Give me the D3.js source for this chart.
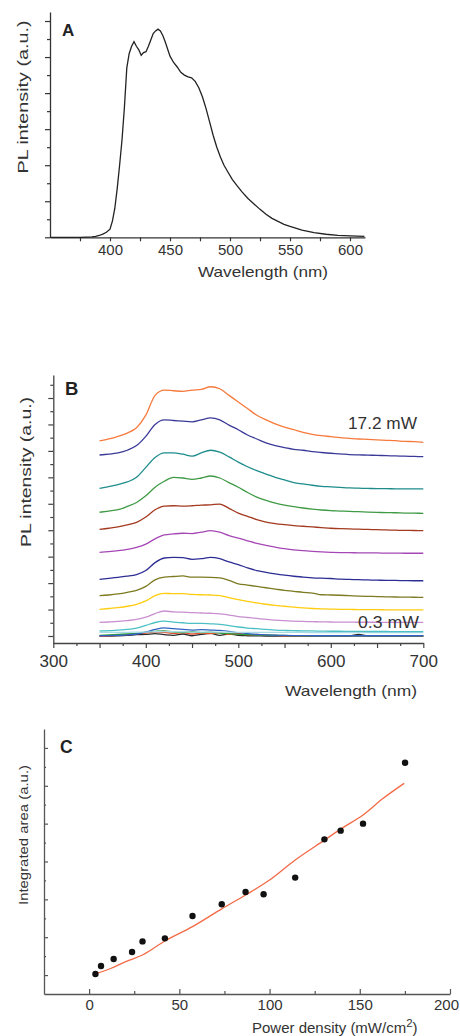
<!DOCTYPE html>
<html><head><meta charset="utf-8">
<script src="https://cdn.jsdelivr.net/npm/d3@7"></script>
<style>
body{margin:0;background:#fff;}
svg{display:block;font-family:"Liberation Sans",Arial,sans-serif;}
</style></head><body>
<svg id="c" width="460" height="1036"></svg>
<script>
// ---------- Panel A data ----------
const wavelengthA = [350,360,370,375,380,385,388,391,394,397,400,402,404,406,408,410,412,414,416,418,420,422,424,426,428,430,432,434,436,438,440,442,444,446,448,450,453,456,459,462,465,468,471,474,477,480,483,486,489,492,495,498,502,506,510,515,520,525,530,535,540,545,550,560,570,580,590,600,612];
const intensityA = [0,0,0,0,0.01,0.02,0.05,0.1,0.18,0.28,0.45,0.9,1.6,2.7,4.0,5.4,7.2,9.4,10.2,10.6,10.85,10.6,10.4,10.1,10.25,10.3,10.6,10.95,11.3,11.45,11.55,11.45,11.2,10.85,10.45,10.05,9.7,9.45,9.15,9.0,8.9,8.85,8.65,8.3,7.8,7.15,6.4,5.65,5.0,4.45,4.0,3.65,3.2,2.85,2.52,2.15,1.85,1.55,1.28,1.05,0.88,0.72,0.6,0.4,0.26,0.17,0.11,0.08,0.05];
const xTicksA = [375,400,425,450,475,500,525,550,575,600];
const xLabelsA = [400,450,500,550,600];
const yTicksA = [0,1,2,3,4,5,6,7,8,9,10,11,12];

// ---------- Panel B data ----------
const wavelengthB = [350,360,370,380,390,400,410,420,430,440,450,460,470,480,490,500,510,520,530,540,550,560,570,580,590,600,610,620,630,640,650,660,670,680,690,700];
const s172 = [14.75,14.9,15.1,15.35,15.75,16.7,18.2,18.6,18.55,18.5,18.6,18.65,18.85,18.7,18.2,17.7,17.2,16.7,16.35,16.05,15.8,15.6,15.4,15.25,15.15,15.08,15.0,14.95,14.9,14.87,14.83,14.8,14.77,14.72,14.7,14.65];
const sNavy1 = [13.69,13.75,13.85,14.05,14.4,15.1,16.0,16.35,16.3,16.25,16.2,16.35,16.5,16.35,15.95,15.6,15.2,14.9,14.6,14.4,14.25,14.12,14.05,13.95,13.88,13.82,13.78,13.72,13.7,13.68,13.66,13.64,13.62,13.6,13.58,13.56];
const sTeal = [11.17,11.3,11.45,11.65,12.0,12.75,13.5,13.85,13.85,13.75,13.6,13.85,14.05,13.9,13.55,13.15,12.8,12.5,12.25,12.0,11.8,11.6,11.5,11.4,11.32,11.28,11.24,11.2,11.18,11.16,11.15,11.14,11.13,11.12,11.12,11.12];
const sGreen = [9.36,9.45,9.55,9.8,10.1,10.6,11.25,11.7,12.0,11.95,11.85,11.95,12.1,11.95,11.6,11.25,10.85,10.5,10.25,10.05,9.9,9.78,9.68,9.6,9.53,9.48,9.45,9.42,9.4,9.37,9.35,9.33,9.32,9.3,9.29,9.28];
const sBrown = [8.07,8.15,8.25,8.4,8.6,9.0,9.55,9.83,9.85,9.82,9.85,9.9,9.92,9.98,9.65,9.3,9.05,8.8,8.62,8.5,8.42,8.35,8.3,8.25,8.2,8.15,8.12,8.1,8.08,8.06,8.04,8.02,8.0,7.99,7.98,7.97];
const sPurple = [6.33,6.38,6.45,6.55,6.7,6.95,7.35,7.64,7.72,7.77,7.75,7.85,7.97,7.85,7.6,7.4,7.2,7.0,6.85,6.72,6.6,6.52,6.45,6.4,6.36,6.33,6.31,6.3,6.29,6.28,6.28,6.27,6.27,6.26,6.26,6.26];
const sNavy2 = [4.29,4.36,4.44,4.52,4.65,4.95,5.55,5.9,5.95,5.92,5.8,5.85,5.95,5.85,5.6,5.4,5.15,4.95,4.82,4.7,4.6,4.52,4.46,4.4,4.37,4.35,4.3,4.28,4.26,4.24,4.22,4.21,4.2,4.19,4.18,4.18];
const sOlive = [3.05,3.1,3.18,3.3,3.45,3.75,4.25,4.45,4.5,4.54,4.45,4.45,4.44,4.4,4.2,3.95,3.85,3.75,3.65,3.55,3.45,3.38,3.3,3.25,3.12,3.1,3.08,3.05,3.02,3.0,2.98,2.96,2.95,2.94,2.93,2.92];
const sYellow = [2.02,2.08,2.15,2.25,2.4,2.65,3.05,3.23,3.2,3.2,3.15,3.12,3.1,3.05,2.9,2.75,2.62,2.5,2.4,2.32,2.25,2.18,2.12,2.08,2.05,2.03,2.02,2.01,2.0,1.99,1.99,1.98,1.98,1.97,1.97,1.97];
const sLilac = [1.03,1.06,1.1,1.17,1.25,1.42,1.7,1.89,1.82,1.8,1.76,1.74,1.72,1.68,1.58,1.47,1.4,1.33,1.25,1.2,1.16,1.12,1.1,1.08,1.07,1.06,1.05,1.05,1.04,1.04,1.04,1.03,1.03,1.03,1.03,1.03];
const sCyan = [0.38,0.4,0.45,0.5,0.6,0.8,1.02,1.12,1.05,1.0,0.95,0.95,0.92,0.88,0.78,0.68,0.6,0.55,0.5,0.45,0.42,0.4,0.39,0.38,0.37,0.36,0.36,0.35,0.35,0.34,0.34,0.34,0.33,0.33,0.33,0.33];
const sPaleCyan = [0.27,0.27,0.28,0.28,0.29,0.3,0.32,0.33,0.32,0.31,0.3,0.3,0.3,0.29,0.29,0.28,0.28,0.28,0.27,0.27,0.27,0.27,0.27,0.26,0.26,0.26,0.26,0.26,0.26,0.26,0.26,0.26,0.26,0.26,0.26,0.26];
const sBlue = [0.02,0.03,0.05,0.08,0.15,0.3,0.5,0.62,0.55,0.5,0.45,0.48,0.45,0.42,0.35,0.25,0.18,0.12,0.08,0.06,0.04,0.03,0.03,0.02,0.02,0.02,0.02,0.02,0.02,0.02,0.02,0.02,0.02,0.02,0.02,0.02];
const sRed = [0.0,0.02,0.05,0.1,0.18,0.22,0.3,0.28,0.2,0.25,0.15,0.22,0.18,0.25,0.12,0.2,0.08,0.12,0.05,0.04,0.02,0.01,0.0,0.0,0.0,0.0,0.0,0.0,0.0,0.0,0.0,0.0,0.0,0.0,0.0,0.0];
const sGreen2 = [0.05,0.08,0.12,0.15,0.2,0.3,0.35,0.38,0.3,0.28,0.32,0.25,0.3,0.22,0.18,0.12,0.1,0.08,0.06,0.05,0.04,0.03,0.02,0.02,0.02,0.02,0.02,0.02,0.02,0.02,0.02,0.02,0.02,0.02,0.02,0.02];
const sBlack = [0.0,0.0,0.02,0.05,0.1,0.12,0.18,0.1,0.05,0.15,0.02,0.12,0.2,0.05,0.15,0.05,0.02,0.01,0.0,0.0,0.0,0.0,0.0,0.0,0.0,0.0,0.0,0.0,0.12,0.0,0.0,0.0,0.0,0.0,0.0,0.0];
const seriesB = [sBlack, sRed, sGreen2, sBlue, sPaleCyan, sCyan, sLilac, sYellow, sOlive, sNavy2, sPurple, sBrown, sGreen, sTeal, sNavy1, s172];
const colorsB = ["#2a2a2a","#e8502c","#2f9e3a","#2f62c4","#a8dbe6","#4cc0c4","#c98fd0","#ffcc10","#7d7a22","#2d2e94","#a548b5","#a3391f","#3f9a45","#1f8c8c","#3b3a98","#f67a3c"];
const labelTop = "17.2 mW";
const labelBottom = "0.3 mW";
const xTicksB = [300,325,350,375,400,425,450,475,500,525,550,575,600,625,650,675,700];
const xLabelsB = [300,400,500,600,700];
const yTicksB = [0,1,2,3,4,5,6,7,8,9,10,11,12,13,14,15,16,17,18,19];

// ---------- Panel C data ----------
const powerDensity = [3.5,6.6,13.6,23.8,29.6,42,57.3,73.5,86.7,96.7,114.2,130.4,139.4,151.8,175.1];
const integratedArea = [1.06,1.48,1.85,2.22,2.78,2.94,4.12,4.74,5.39,5.27,6.15,8.17,8.63,9.0,12.22];
const fitX = [3.5,12.2,20,29.6,42,57.3,73.5,86.7,100,114.2,130.4,140,151.8,163,174.6];
const fitY = [1.06,1.36,1.7,2.06,2.8,3.56,4.5,5.23,6.02,7.08,8.13,8.75,9.46,10.34,11.13];
const xTicksC = [0,25,50,75,100,125,150,175,200];
const xLabelsC = [0,50,100,150,200];
const yTicksC = [1,2,3,4,5,6,7,8,9,10,11,12,13];

// ---------- drawing ----------
const svg = d3.select("#c");
const ink = "#333";

function styleAxis(g, col){
  g.select(".domain").attr("stroke", col).attr("stroke-width", 1.3);
  g.selectAll(".tick line").attr("stroke", col).attr("stroke-width", 1.2);
  g.selectAll(".tick text").attr("fill", ink).style("font-family","'Liberation Sans',Arial,sans-serif");
}
function label(x, y, txt, size, len, opts = {}){
  const t = svg.append("text").attr("font-size", size).attr("fill", opts.fill || ink)
    .attr("text-anchor", opts.anchor || "middle").text(txt);
  if (opts.rotate) t.attr("transform", `translate(${x},${y}) rotate(-90)`);
  else t.attr("x", x).attr("y", y);
  if (len) t.attr("textLength", len).attr("lengthAdjust", "spacingAndGlyphs");
  if (opts.bold) t.attr("font-weight", "bold");
  return t;
}

// ===== Panel A =====
{
  const x = d3.scaleLinear([350, 612.5], [50, 365]);
  const y = d3.scaleLinear([0, 12.5], [237.3, 12]);
  const gx = svg.append("g").attr("transform","translate(0,237.3)")
    .call(d3.axisBottom(x).tickValues(xTicksA).tickSize(4).tickSizeOuter(0).tickPadding(3)
      .tickFormat(d => xLabelsA.includes(d) ? d : ""));
  gx.selectAll("text").attr("font-size", 15);
  styleAxis(gx, "#333");
  const gy = svg.append("g").attr("transform","translate(50,0)")
    .call(d3.axisLeft(y).tickValues(yTicksA).tickSize(3).tickSizeOuter(0).tickFormat(""));
  gy.selectAll(".tick line").attr("x2", d => d % 2 === 0 ? -5 : -3);
  styleAxis(gy, "#333");
  const line = d3.line().x(d => x(d[0])).y(d => y(d[1]));
  svg.append("path").datum(wavelengthA.map((w,i)=>[w,intensityA[i]]))
    .attr("d", line).attr("fill","none").attr("stroke","#222").attr("stroke-width",1.3);
  label(62, 35.7, "A", 17, null, {anchor:"start", bold:true, fill:"#222"});
  label(28, 97, "PL intensity (a.u.)", 15.5, 153, {rotate:true});
  label(263, 277, "Wavelength (nm)", 15, 130);
}

// ===== Panel B =====
{
  const x = d3.scaleLinear([300, 700], [53.3, 423.3]);
  const y = d3.scaleLinear([-0.53, 19.74], [643, 375]);
  const gx = svg.append("g").attr("transform","translate(0,643)")
    .call(d3.axisBottom(x).tickValues(xTicksB).tickSize(5).tickSizeOuter(0).tickPadding(7)
      .tickFormat(d => xLabelsB.includes(d) ? d : ""));
  gx.selectAll(".tick line").attr("y2", d => d % 50 === 0 ? 5 : 3);
  gx.selectAll("text").attr("font-size", 17);
  styleAxis(gx, "#444");
  const gy = svg.append("g").attr("transform","translate(53.3,0)")
    .call(d3.axisLeft(y).tickValues(yTicksB).tickSize(3).tickSizeOuter(0).tickFormat(""));
  gy.selectAll(".tick line").attr("x2", d => d % 2 === 0 ? -5 : -3);
  styleAxis(gy, "#444");
  const line = d3.line().x(d => x(d[0])).y(d => y(d[1])).curve(d3.curveMonotoneX);
  seriesB.forEach((s, k) => {
    svg.append("path").datum(wavelengthB.map((w,i)=>[w,s[i]]))
      .attr("d", line).attr("fill","none").attr("stroke", colorsB[k]).attr("stroke-width",1.3);
  });
  label(65, 395, "B", 18.5, null, {anchor:"start", bold:true, fill:"#222"});
  label(31, 472, "PL intensity (a.u.)", 15.5, 150, {rotate:true});
  label(351, 696, "Wavelength (nm)", 15, 132);
  label(417, 429, labelTop, 16, 69, {anchor:"end"});
  label(419, 628, labelBottom, 16, 61, {anchor:"end"});
}

// ===== Panel C =====
{
  const x = d3.scaleLinear([-25, 200], [44, 450]);
  const y = d3.scaleLinear([0, 14], [994, 729]);
  const gx = svg.append("g").attr("transform","translate(0,994)")
    .call(d3.axisBottom(x).tickValues(xTicksC).tickSize(0).tickSizeOuter(0).tickPadding(5)
      .tickFormat(d => xLabelsC.includes(d) ? d : ""));
  gx.selectAll(".tick line").attr("y2", d => d % 50 === 0 ? -5 : -3);
  gx.selectAll("text").attr("font-size", 15).attr("dx", d => d === 200 ? -4 : 0);
  styleAxis(gx, "#555");
  const gy = svg.append("g").attr("transform","translate(44,0)")
    .call(d3.axisLeft(y).tickValues(yTicksC).tickSize(0).tickSizeOuter(0).tickFormat(""));
  gy.selectAll(".tick line").attr("x2", d => d % 2 === 1 ? 4 : 2);
  styleAxis(gy, "#555");
  const line = d3.line().x(d => x(d[0])).y(d => y(d[1])).curve(d3.curveMonotoneX);
  svg.append("path").datum(fitX.map((v,i)=>[v,fitY[i]]))
    .attr("d", line).attr("fill","none").attr("stroke","#f26a45").attr("stroke-width",1.3);
  svg.append("g").selectAll("circle").data(powerDensity.map((v,i)=>[v,integratedArea[i]]))
    .join("circle").attr("cx", d => x(d[0])).attr("cy", d => y(d[1])).attr("r", 3.2).attr("fill","#111");
  label(60, 752.7, "C", 17.5, null, {anchor:"start", bold:true, fill:"#222"});
  label(28, 835, "Integrated area (a.u.)", 12.5, 140, {rotate:true});
  const t = svg.append("text").attr("x",252).attr("y",1033).attr("font-size",15).attr("fill",ink);
  t.append("tspan").text("Power density (mW/cm");
  t.append("tspan").attr("dy",-6).attr("font-size",11.5).text("2");
  t.append("tspan").attr("dy",6).text(")");
}
</script>
</body></html>
